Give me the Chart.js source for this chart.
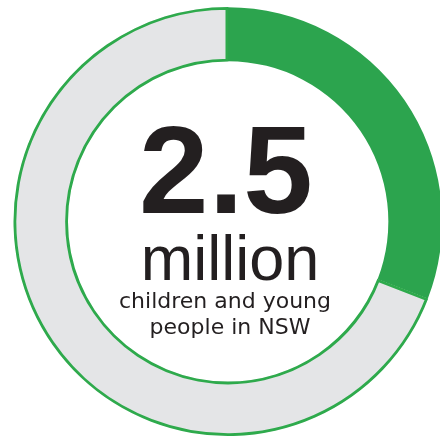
<!DOCTYPE html>
<html>
<head>
<meta charset="utf-8">
<script src="https://cdn.jsdelivr.net/npm/chart.js@4"></script>
<style>
  html, body { margin: 0; padding: 0; background: #fff; }
  #wrap { width: 440px; height: 437px; position: relative; overflow: hidden; }
</style>
</head>
<body>
<div id="wrap"><canvas id="grafico"></canvas></div>
<script>
// Datos (millones de personas en NSW)
const segmentos = ['Children and young people', 'Rest of NSW population'];
const valores = [2.5, 5.6];
const colores = ['#2ca44e', '#e4e5e7'];
const bordes = [0, 2.5];

// Texto central
const cifra = '2.5';
const unidad = 'million';
const leyenda = ['children and young', 'people in NSW'];

// Dibuja el texto en el centro del anillo
const textoCentral = {
  id: 'textoCentral',
  afterDatasetsDraw(chart) {
    const arco = chart.getDatasetMeta(0).data[0];
    const { x, y } = arco;
    const c = chart.ctx;
    c.save();
    c.fillStyle = '#231f20';
    c.textAlign = 'center';
    c.textBaseline = 'alphabetic';

    c.font = 'bold 125px "Liberation Sans", Arial, sans-serif';
    c.fillText(cifra, x - 2, y - 8.5);

    c.font = '63px "Liberation Sans", Arial, sans-serif';
    c.fillText(unidad, x + 2, y + 58.5);

    c.font = '22px "DejaVu Sans", sans-serif';
    c.fillText(leyenda[0], x - 3, y + 86.5);
    c.fillText(leyenda[1], x + 2, y + 112.5);
    c.restore();
  }
};

const ctx = document.getElementById('grafico').getContext('2d');
const chart = new Chart(ctx, {
  type: 'doughnut',
  data: {
    labels: segmentos,
    datasets: [{
      data: valores,
      backgroundColor: colores,
      borderColor: '#2eaa4c',
      borderWidth: bordes,
      borderAlign: 'inner'
    }]
  },
  options: {
    responsive: true,
    maintainAspectRatio: false,
    animation: false,
    radius: 214.5,
    cutout: '74.6%',
    layout: { padding: { left: 16, top: 6, right: 0, bottom: 0 } },
    plugins: {
      legend: { display: false },
      tooltip: { enabled: false }
    },
    events: []
  },
  plugins: [textoCentral]
});
</script>
</body>
</html>
